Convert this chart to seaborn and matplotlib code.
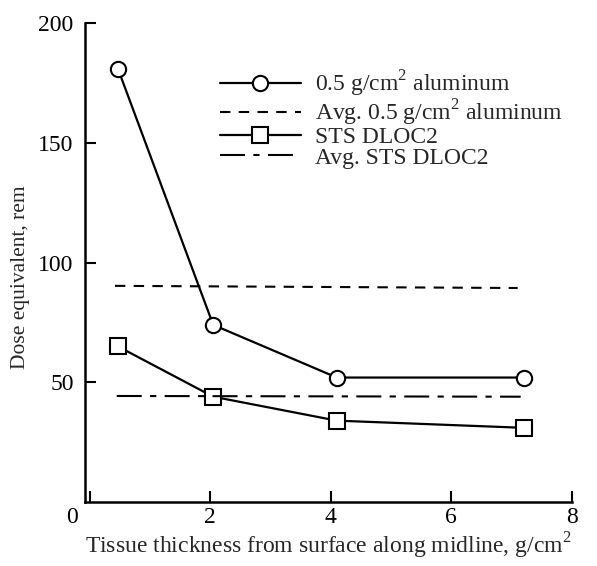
import pandas as pd
import matplotlib.pyplot as plt
import matplotlib.transforms as mtransforms
import seaborn as sns

# data
thickness = [0.47, 2.05, 4.1, 7.2]
dose_al = [181, 74, 52, 52]
dose_sts = [65, 44, 34, 31]

avg_x_al = [0.42, 7.1]
avg_al = [90.3, 89.4]
avg_x_sts = [0.45, 7.15]
avg_sts = [44.3, 44.0]

df = pd.DataFrame({'x': thickness, 'al': dose_al, 'sts': dose_sts})
df_avg_al = pd.DataFrame({'x': avg_x_al, 'y': avg_al})
df_avg_sts = pd.DataFrame({'x': avg_x_sts, 'y': avg_sts})

sns.set_theme(style="ticks")
plt.rcParams['font.family'] = ['Liberation Serif', 'DejaVu Serif']
plt.rcParams['mathtext.fontset'] = 'custom'
plt.rcParams['mathtext.rm'] = 'Liberation Serif'

fig, ax = plt.subplots(figsize=(5.97, 5.66), dpi=100)
fig.subplots_adjust(left=0.142, right=0.958, bottom=0.113, top=0.959)

sns.lineplot(ax=ax, data=df, x='x', y='al', color='black', lw=1.6,
             marker='o', ms=11, mfc='white', mec='black', mew=1.5,
             label='0.5 g/cm$^{2}$ aluminum')
sns.lineplot(ax=ax, data=df_avg_al, x='x', y='y', color='black', lw=1.5,
             ls=(0, (5, 4)), label='Avg. 0.5 g/cm$^{2}$ aluminum')
sns.lineplot(ax=ax, data=df, x='x', y='sts', color='black', lw=1.6,
             marker='s', ms=11, mfc='white', mec='black', mew=1.5,
             label='STS DLOC2')
sns.lineplot(ax=ax, data=df_avg_sts, x='x', y='y', color='black', lw=1.5,
             ls=(0, (12, 4, 3, 4)), label='Avg. STS DLOC2')

ax.set_xlim(-0.08, 8)
ax.set_ylim(0, 200)
ax.set_xticks([0, 2, 4, 6, 8])
ax.set_yticks([50, 100, 150, 200])
ax.tick_params(direction='in', length=8, width=1.5, labelsize=17, colors='black')
ax.tick_params(axis='y', pad=8)
for s in ['top', 'right']:
    ax.spines[s].set_visible(False)
for s in ['left', 'bottom']:
    ax.spines[s].set_linewidth(1.8)
    ax.spines[s].set_color('black')

# the "0" sits left of the corner in the reference
zero_lbl = ax.get_xticklabels()[0]
zero_lbl.set_transform(zero_lbl.get_transform() +
                       mtransforms.ScaledTranslation(-0.18, 0, fig.dpi_scale_trans))

ax.set_xlabel('Tissue thickness from surface along midline, g/cm$^{2}$', fontsize=17, labelpad=2)
ax.set_ylabel('Dose equivalent, rem', fontsize=15.5)
ax.yaxis.set_label_coords(-0.113, 0.47)

ax.legend(loc='upper right', bbox_to_anchor=(1.0, 0.925), frameon=False,
          fontsize=17, handlelength=3.4, handletextpad=0.6, labelspacing=-0.05,
          borderaxespad=0)

plt.savefig("out.png", dpi=100)
